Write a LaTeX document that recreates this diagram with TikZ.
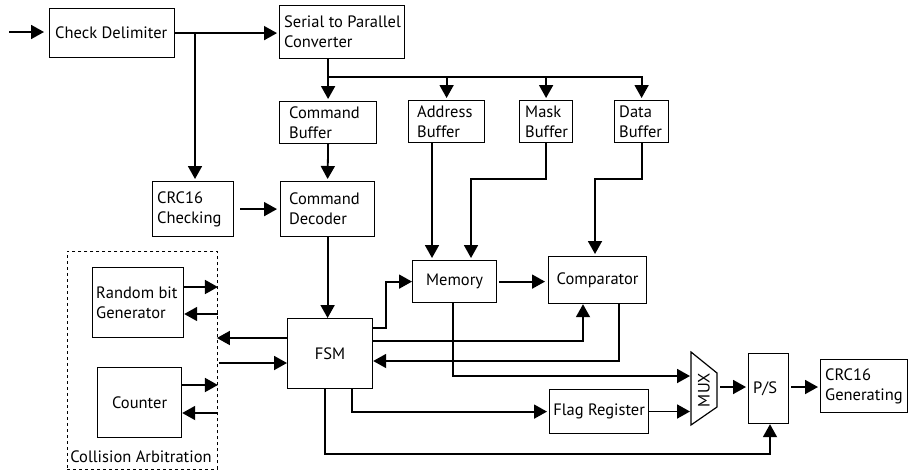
\documentclass[tikz,border=0pt]{standalone}
\usepackage{fontspec}
\setmainfont{PT Sans}
\usetikzlibrary{arrows.meta}
\begin{document}
\begin{tikzpicture}[x=1pt,y=-1pt,
  box/.style={draw, line width=1.2pt, anchor=north west, inner sep=0pt, font=\fontsize{16.5}{20}\selectfont},
  txt/.style={anchor=west, align=left, inner sep=0pt, font=\fontsize{16.5}{20}\selectfont},
  arr/.style={line width=1.8pt, -{Triangle[length=13pt,width=14pt]}},
  lbl/.style={font=\fontsize{16.5}{20}\selectfont, inner sep=0pt}]
\useasboundingbox (0,0) rectangle (909,472);
% boxes
\node[box, minimum width=125pt, minimum height=49pt] (cd) at (49,8) {};
\node[txt] (cdt) at ([xshift=6pt]cd.west) {Check Delimiter};
\node[box, minimum width=125pt, minimum height=53pt] (sp) at (279,5) {};
\node[txt] (spt) at ([xshift=5pt]sp.west) {Serial to Parallel\\Converter};
\node[box, minimum width=97pt, minimum height=42pt] (cb) at (279,101) {};
\node[txt] (cbt) at ([xshift=10pt]cb.west) {Command\\Buffer};
\node[box, minimum width=76pt, minimum height=42pt] (ab) at (408,100) {};
\node[txt] (abt) at ([xshift=9pt]ab.west) {Address\\Buffer};
\node[box, minimum width=53pt, minimum height=42pt] (mb) at (519,100) {};
\node[txt] (mbt) at ([xshift=6pt]mb.west) {Mask\\Buffer};
\node[box, minimum width=54pt, minimum height=42pt] (db) at (614,100) {};
\node[txt] (dbt) at ([xshift=5pt]db.west) {Data\\Buffer};
\node[box, minimum width=81pt, minimum height=55pt] (crc) at (152,181) {};
\node[txt] (crct) at ([xshift=5pt]crc.west) {CRC16\\Checking};
\node[box, minimum width=94pt, minimum height=55pt] (dec) at (280,181) {};
\node[txt] (dect) at ([xshift=9pt]dec.west) {Command\\Decoder};
\node[box, minimum width=84pt, minimum height=42pt] (mem) at (412,260) {Memory};
\node[box, minimum width=98pt, minimum height=47pt] (cmp) at (548,256) {Comparator};
\node[draw, dashed, line width=0.9pt, minimum width=150pt, minimum height=218pt, anchor=north west, inner sep=0pt] (ca) at (67,251) {};
\node[box, minimum width=91pt, minimum height=70pt] (rbg) at (92,267) {};
\node[txt] (rbgt) at ([xshift=4pt]rbg.west) {Random bit\\Generator};
\node[box, minimum width=84pt, minimum height=70pt] (cnt) at (97,367) {Counter};
\node[lbl, anchor=base] (calbl) at (141,462) {Collision Arbitration};
\node[box, minimum width=85pt, minimum height=70pt] (fsm) at (287,318) {FSM};
\node[box, minimum width=99pt, minimum height=44pt] (flag) at (549,389) {Flag Register};
\node[box, minimum width=40pt, minimum height=70pt] (ps) at (748,353) {};
\node[txt] (pst) at ([xshift=5pt]ps.west) {P/S};
\node[box, minimum width=87pt, minimum height=53pt] (gen) at (820,359) {};
\node[txt] (gent) at ([xshift=5pt]gen.west) {CRC16\\Generating};
% MUX
\draw[line width=1.2pt] (691,352) -- (717,373) -- (717,407) -- (691,425) -- cycle;
\node[lbl, rotate=90] (mux) at (704,390) {MUX};
\coordinate (muxin1) at (690,376);
\coordinate (muxin2) at (690,411.5);
\coordinate (muxout) at (718,387);
% connectors
\coordinate (in) at (9,32);
\draw[arr, shorten >=5pt] (in) -- (in -| cd.west);
\draw[arr, shorten >=2pt] (cd.east) -- (cd.east -| sp.west);
\coordinate (j1) at (195,0 |- cd.east);
\draw[arr, shorten >=2pt] (j1) -- (j1 |- crc.north);
\coordinate (bus) at (cb.north |- 0,77);
\draw[arr, shorten >=2pt] (cb.north |- sp.south) -- (cb.north);
\draw[arr, shorten >=2pt] (bus) -| (db.north);
\draw[arr, shorten >=2pt] (ab.north |- bus) -- (ab.north);
\draw[arr, shorten >=2pt] (mb.north |- bus) -- (mb.north);
\draw[arr, shorten >=2pt] (cb.south) -- (dec.north);
\draw[arr, shorten <=6pt, shorten >=3pt] (crc.east) -- (dec.west);
\draw[arr] (dec.south) -- (dec.south |- fsm.north);
\draw[arr, shorten >=2pt] (432,0 |- ab.south) -- (432,0 |- mem.north);
\draw[arr, shorten >=2pt] (mb.south) -- ++(0,36) -| (471,0 |- mem.north);
\draw[arr, shorten >=2pt] (db.south) -- ++(0,36) -| (595,0 |- cmp.north);
\draw[arr, shorten <=2pt, shorten >=3pt] (mem.east) -- (mem.east -| cmp.west);
\draw[arr] (fsm.east |- 0,328) -- (386,328) |- (mem.west);
\draw[arr] (fsm.east |- 0,341) -| (583,0 |- cmp.south);
\draw[arr] (619,0 |- cmp.south) |- (fsm.east |- 0,361);
\draw[arr] (453,0 |- mem.south) |- (muxin1);
\draw[arr, shorten >=2pt] (352,0 |- fsm.south) |- (flag.west);
\draw[arr] (flag.east |- muxin2) -- (muxin2);
\draw[arr, shorten <=2pt, shorten >=2pt] (muxout) -- (muxout -| ps.west);
\draw[arr, shorten <=2pt, shorten >=2pt] (ps.east |- muxout) -- (gen.west |- muxout);
\draw[arr] (325,0 |- fsm.south) |- (770,454) -- (770,0 |- ps.south);
\draw[arr, shorten >=-1pt] (fsm.west |- 0,338) -- (ca.east |- 0,338);
\draw[arr, shorten <=1pt] (ca.east |- 0,363) -- (fsm.west |- 0,363);
\draw[arr] (rbg.east |- 0,287) -- (ca.east |- 0,287);
\draw[arr] (ca.east |- 0,314) -- (rbg.east |- 0,314);
\draw[arr] (cnt.east |- 0,385) -- (ca.east |- 0,385);
\draw[arr] (ca.east |- 0,413) -- (cnt.east |- 0,413);
\end{tikzpicture}
\end{document}
